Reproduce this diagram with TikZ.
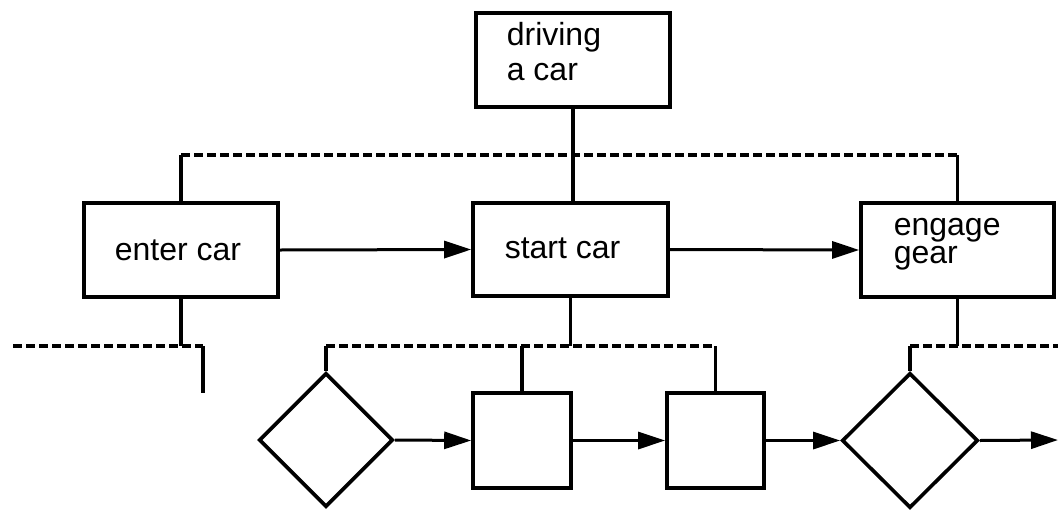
\documentclass[tikz,border=0pt]{standalone}
\usepackage{fontspec}
\setmainfont{Liberation Sans}
\usetikzlibrary{arrows.meta,shapes.geometric}
\begin{document}
\begin{tikzpicture}[x=1pt,y=-1pt,
  line width=3.6pt,
  box/.style={draw, rectangle, inner sep=0pt, line width=3.6pt},
  dia/.style={draw, diamond, inner sep=0pt, aspect=1, line width=3.6pt},
  lbl/.style={anchor=base west, inner sep=0pt, align=left, font=\fontsize{32}{28}\selectfont},
  flow/.style={-{Triangle[length=27pt,width=17pt]}, line width=3pt},
  link/.style={line width=3.6pt},
  dline/.style={line width=3.6pt, dash pattern=on 9pt off 4pt}
]
\useasboundingbox (0,0) rectangle (1058,509);

% boxes
\node[box, minimum width=194pt, minimum height=94pt] (drive) at (573,60) {};
\node[box, minimum width=194pt, minimum height=94pt] (enter) at (181,250) {};
\node[box, minimum width=195pt, minimum height=93pt] (start) at (570.5,249.5) {};
\node[box, minimum width=193pt, minimum height=94pt] (engage) at (957.5,250) {};
\node[box, minimum width=98pt, minimum height=95pt] (sq1) at (522,440.5) {};
\node[box, minimum width=97pt, minimum height=95pt] (sq2) at (715.5,440.5) {};
\node[dia, minimum width=134pt, minimum height=134pt] (d1) at (326,440) {};
\node[dia, minimum width=136pt, minimum height=135pt] (d2) at (910,440.5) {};

% texts (base anchor = baseline of the last line)
\node[lbl, font=\fontsize{32}{35}\selectfont] (t1) at (505,80) {driving\\a car};
\node[lbl] (t3) at (113,260) {enter car};
\node[lbl] (t4) at (503,258) {start car};
\node[lbl] (t5) at (892,263) {engage\\gear};

% helper coordinates
\coordinate (top) at (0,155);
\coordinate (bot) at (0,346);
\coordinate (lfree) at (13,346);
\coordinate (lcorner) at (203,346);
\coordinate (lend) at (203,393);
\coordinate (rfree) at (1058,346);
\coordinate (rend) at (1058,440);

% top level
\draw[link] (drive.south) -- (drive.south |- start.north);
\draw[link] (enter.north) -- (enter.north |- top);
\draw[dline] (enter.north |- top) -- (engage.north |- top);
\draw[link] (engage.north |- top) -- (engage.north);

\draw[flow] (enter.east) -- (start.west);
\draw[flow] (start.east) -- (engage.west);

% under enter car
\draw[link] (enter.south) -- (enter.south |- bot);
\draw[dline] (lfree) -- (lcorner);
\draw[link] (lcorner) -- (lend);

% under start car
\draw[link] (start.south) -- (start.south |- bot);
\draw[dline] (d1.north |- bot) -- (sq2.north |- bot);
\draw[link] (d1.north |- bot) -- (d1.north);
\draw[link] (sq1.north |- bot) -- (sq1.north);
\draw[link] (sq2.north |- bot) -- (sq2.north);

% under engage gear
\draw[link] (engage.south) -- (engage.south |- bot);
\draw[dline] (d2.north |- bot) -- (rfree);
\draw[link] (d2.north |- bot) -- (d2.north);

% bottom flow
\draw[flow] (d1.east) -- (sq1.west);
\draw[flow] (sq1.east) -- (sq2.west);
\draw[flow] (sq2.east) -- (d2.west);
\draw[flow] (d2.east) -- (rend);
\end{tikzpicture}
\end{document}
